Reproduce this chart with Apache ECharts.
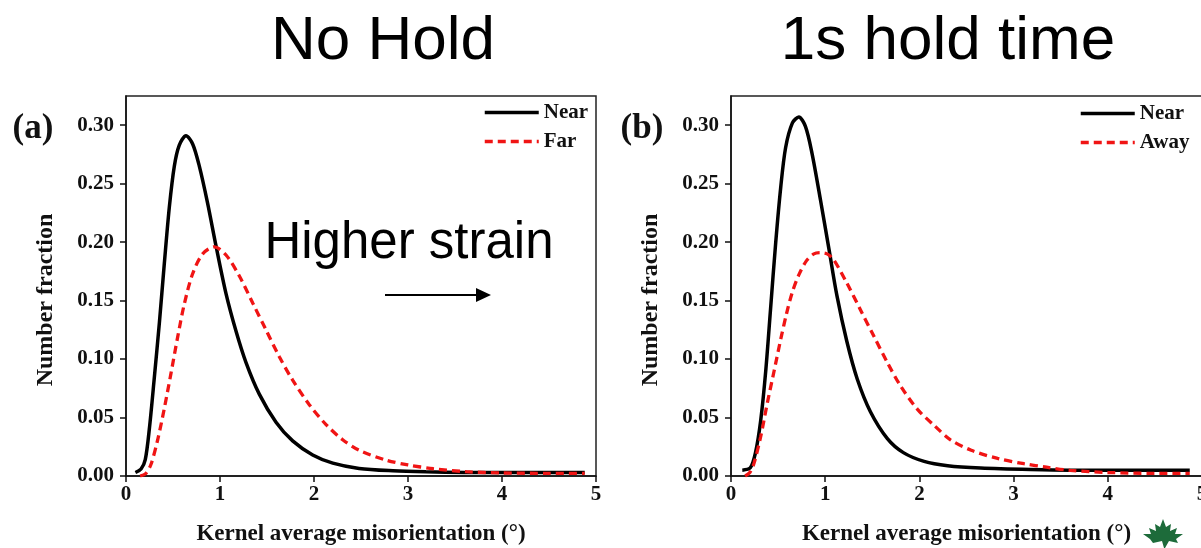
<!DOCTYPE html>
<html><head><meta charset="utf-8">
<script src="https://cdn.jsdelivr.net/npm/echarts@6/dist/echarts.min.js"></script>
<style>html,body{margin:0;padding:0;background:#fff}#c{width:1201px;height:548px}</style>
</head><body><div id="c"></div>
<script>
const panelTitles = ['No Hold', '1s hold time'];
const panelLabels = ['(a)', '(b)'];
const legendA = ['Near', 'Far'];
const legendB = ['Near', 'Away'];
const annotation = 'Higher strain';
const xName = 'Kernel average misorientation (°)';
const yName = 'Number fraction';
const yTicks = [0, 0.05, 0.10, 0.15, 0.20, 0.25, 0.30];

// Panel (a) — No Hold
const nearA = [[0.10,0.003],[0.16,0.006],[0.205,0.014],[0.248,0.040],[0.30,0.083],[0.355,0.131],[0.408,0.182],[0.461,0.230],[0.514,0.265],[0.567,0.283],[0.638,0.291],[0.709,0.284],[0.78,0.265],[0.869,0.233],[0.957,0.197],[1.064,0.156],[1.17,0.124],[1.277,0.097],[1.418,0.070],[1.596,0.046],[1.773,0.030],[1.986,0.018],[2.2,0.011],[2.48,0.0065],[2.84,0.0045],[3.19,0.0036],[3.6,0.0031],[4.0,0.003],[4.5,0.003],[4.88,0.003]];
const farA = [[0.15,0.0],[0.21,0.002],[0.266,0.010],[0.337,0.031],[0.408,0.058],[0.479,0.088],[0.55,0.119],[0.62,0.147],[0.709,0.173],[0.816,0.190],[0.94,0.196],[1.064,0.189],[1.206,0.171],[1.348,0.148],[1.489,0.125],[1.631,0.102],[1.773,0.082],[1.95,0.061],[2.128,0.044],[2.305,0.031],[2.48,0.022],[2.77,0.0135],[3.0,0.0095],[3.27,0.0062],[3.62,0.0037],[4.0,0.0026],[4.5,0.0023],[4.88,0.0023]];

// Panel (b) — 1s hold time
const nearB = [[0.12,0.005],[0.205,0.007],[0.26,0.020],[0.316,0.048],[0.37,0.091],[0.42,0.143],[0.475,0.200],[0.528,0.247],[0.58,0.281],[0.652,0.302],[0.72,0.307],[0.79,0.299],[0.86,0.276],[0.95,0.236],[1.04,0.194],[1.125,0.154],[1.23,0.115],[1.34,0.083],[1.48,0.055],[1.66,0.032],[1.83,0.020],[2.05,0.0125],[2.3,0.0088],[2.65,0.0068],[3.18,0.0055],[3.6,0.005],[4.2,0.005],[4.87,0.005]];
const awayB = [[0.15,0.0],[0.20,0.003],[0.245,0.011],[0.316,0.034],[0.387,0.063],[0.458,0.090],[0.528,0.117],[0.59,0.139],[0.65,0.157],[0.72,0.172],[0.80,0.184],[0.88,0.190],[0.95,0.191],[1.02,0.190],[1.09,0.185],[1.23,0.165],[1.375,0.142],[1.52,0.119],[1.66,0.097],[1.8,0.077],[1.98,0.057],[2.16,0.043],[2.33,0.031],[2.55,0.022],[2.83,0.015],[3.11,0.0105],[3.35,0.0075],[3.6,0.0048],[4.0,0.003],[4.5,0.0023],[4.87,0.0023]];

const serif = 'Liberation Serif';
const sans = 'Liberation Sans';

function xAxisFor(i) {
  return {
    gridIndex: i, type: 'value', min: 0, max: 5, interval: 1,
    name: xName, nameLocation: 'middle', nameGap: 47,
    nameTextStyle: { fontFamily: serif, fontWeight: 'bold', fontSize: 23, color: '#111' },
    axisLine: { show: true, onZero: false, lineStyle: { color: '#111', width: 1.5 } },
    axisTick: { show: true, inside: false, length: 6, lineStyle: { color: '#111', width: 1.5 } },
    axisLabel: { margin: 8, fontFamily: serif, fontWeight: 'bold', fontSize: 21, color: '#111' },
    splitLine: { show: false }
  };
}
function yAxisFor(i) {
  return {
    gridIndex: i, type: 'value', min: 0, max: 0.325,
    name: yName, nameLocation: 'middle', nameGap: 68,
    nameTextStyle: { fontFamily: serif, fontWeight: 'bold', fontSize: 24, color: '#111', padding: [0, 28, 0, 0] },
    axisLine: { show: true, onZero: false, lineStyle: { color: '#111', width: 1.5 } },
    axisTick: { show: true, inside: false, length: 6, customValues: yTicks, lineStyle: { color: '#111', width: 1.5 } },
    axisLabel: { margin: 12, customValues: yTicks, formatter: v => v.toFixed(2), fontFamily: serif, fontWeight: 'bold', fontSize: 21, color: '#111' },
    splitLine: { show: false }
  };
}
function solid(name, data, i) {
  return { name, type: 'line', xAxisIndex: i, yAxisIndex: i, data, showSymbol: false, symbol: 'none', smooth: 0.3,
    lineStyle: { color: '#000', width: 3.5 }, itemStyle: { color: '#000' } };
}
function dashed(name, data, i) {
  return { name, type: 'line', xAxisIndex: i, yAxisIndex: i, data, showSymbol: false, symbol: 'none', smooth: 0.3,
    lineStyle: { color: '#f01414', width: 3.3, type: [8, 5] }, itemStyle: { color: '#f01414' } };
}
const legendText = { fontFamily: serif, fontWeight: 'bold', fontSize: 21, color: '#111' };
const legendBase = { orient: 'vertical', padding: 0, itemWidth: 54, itemHeight: 14, itemGap: 8, selectedMode: false,
  textStyle: legendText, itemStyle: { opacity: 0, borderWidth: 0 }, lineStyle: { width: 3.5 } };

const chart = echarts.init(document.getElementById('c'), null, { renderer: 'canvas' });
chart.setOption({
  animation: false,
  backgroundColor: '#fff',
  grid: [
    { left: 126, top: 96, width: 470, height: 380, show: true, borderColor: '#222', borderWidth: 1.5, backgroundColor: 'transparent', outerBoundsMode: 'none' },
    { left: 731, top: 96, width: 471, height: 380, show: true, borderColor: '#222', borderWidth: 1.5, backgroundColor: 'transparent', outerBoundsMode: 'none' }
  ],
  xAxis: [xAxisFor(0), xAxisFor(1)],
  yAxis: [yAxisFor(0), yAxisFor(1)],
  legend: [
    Object.assign({ data: legendA, left: 483, top: 102 }, legendBase),
    Object.assign({ data: legendB, left: 1079, top: 103 }, legendBase)
  ],
  series: [
    solid(legendA[0], nearA, 0), dashed(legendA[1], farA, 0),
    solid(legendB[0], nearB, 1), dashed(legendB[1], awayB, 1)
  ],
  graphic: [
    { type: 'text', x: 383, y: 42, style: { text: panelTitles[0], fontFamily: sans, fontSize: 62, fill: '#000', align: 'center', verticalAlign: 'middle' } },
    { type: 'text', x: 948, y: 42, style: { text: panelTitles[1], fontFamily: sans, fontSize: 62, fill: '#000', align: 'center', verticalAlign: 'middle' } },
    { type: 'text', x: 33, y: 129, style: { text: panelLabels[0], fontFamily: serif, fontWeight: 'bold', fontSize: 35, fill: '#111', align: 'center', verticalAlign: 'middle' } },
    { type: 'text', x: 642, y: 129, style: { text: panelLabels[1], fontFamily: serif, fontWeight: 'bold', fontSize: 35, fill: '#111', align: 'center', verticalAlign: 'middle' } },
    { type: 'text', x: 409, y: 244, style: { text: annotation, fontFamily: sans, fontSize: 51, fill: '#000', align: 'center', verticalAlign: 'middle' } },
    { type: 'line', shape: { x1: 385, y1: 295, x2: 478, y2: 295 }, style: { stroke: '#000', lineWidth: 2 } },
    { type: 'polygon', shape: { points: [[476, 288], [491, 295], [476, 302]] }, style: { fill: '#000' } },
    { type: 'polygon', x: 1143, y: 519, shape: { points: [[20,0],[23,8],[28,5],[27,12],[34,9],[32,15],[40,15],[33,20],[35,24],[26,22],[22,29],[21,29],[19,22],[10,24],[7,20],[0,15],[8,15],[6,9],[13,12],[12,5],[17,8]] }, style: { fill: '#1d6b3a' } }
  ]
});
</script>
</body></html>
